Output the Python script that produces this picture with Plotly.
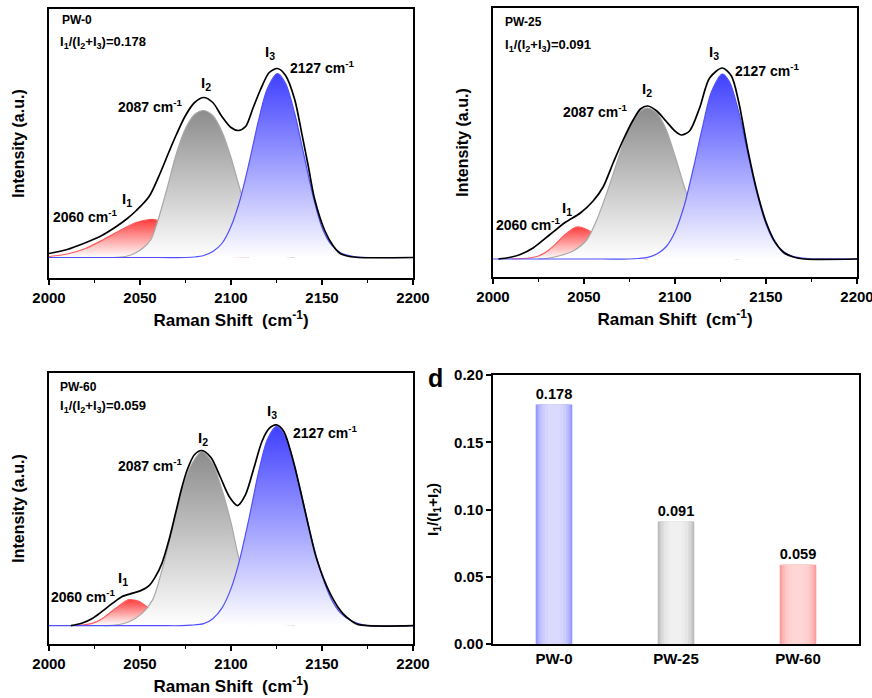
import plotly.graph_objects as go

FONT = "Liberation Sans, Arial, Helvetica, sans-serif"

# ---------------- Data ----------------
# PW-0 : fitted envelope and components (Raman shift cm-1, intensity a.u.)
pw0_env_x = [2000, 2010, 2019, 2028, 2037, 2043, 2048, 2055, 2061, 2066, 2070, 2075, 2080, 2085, 2090, 2095,
             2100, 2104, 2108, 2112, 2116, 2121, 2125.5, 2130, 2135, 2139, 2142.5, 2146, 2151.5, 2156, 2160,
             2165, 2170, 2200]
pw0_env_y = [4, 8, 14, 21, 31, 39, 47, 61, 84, 106, 123, 142, 155, 160, 155, 141,
             130, 127, 131, 149, 167, 185, 189, 182, 158, 123, 91, 58, 27, 12, 4,
             1, 0, 0]
pw0_i1_x = [2000, 2010, 2020, 2030, 2040, 2048, 2055, 2060, 2064, 2072, 2080, 2090, 2100, 2110]
pw0_i1_y = [1, 3.5, 9, 18, 28, 35, 38, 37, 33, 22, 12, 4, 1, 0]
pw0_i2_x = [2035, 2042, 2047, 2052, 2056, 2060, 2065, 2070, 2075, 2080, 2085, 2090, 2095, 2100, 2105, 2110,
            2115, 2120, 2125, 2130, 2135]
pw0_i2_y = [0, 1, 4, 10, 18, 38, 70, 104, 129, 143, 147, 142, 126, 100, 68, 42,
            24, 11, 4, 1, 0]
pw0_i3_x = [2000, 2060, 2075, 2080, 2085, 2090, 2095, 2100, 2105, 2110, 2115, 2120, 2125.5, 2130, 2135, 2140,
            2145, 2150, 2155, 2160, 2165, 2170, 2200]
pw0_i3_y = [0, 0, 0, 0.5, 2, 6, 14, 31, 58, 95, 136, 169, 184, 174, 144, 103,
            62, 30, 13, 5, 2, 0.5, 0]

# PW-25
pw25_env_x = [2003, 2009, 2015, 2022, 2031, 2040, 2048, 2055, 2060.5, 2066, 2071.5, 2077, 2081, 2085, 2090,
              2095, 2100, 2103.5, 2108, 2113.5, 2119, 2126, 2131, 2135, 2140, 2145, 2150, 2155, 2160, 2165,
              2171, 2200]
pw25_env_y = [0, 1.5, 4.5, 11, 24, 37, 46, 58, 72, 96, 119, 139, 150, 153, 148,
              138, 128, 124, 128, 151, 181, 191, 183, 157, 109, 68, 37, 17, 6, 2,
              0, 0]
pw25_i1_x = [2010, 2020, 2025, 2030, 2035, 2040, 2046, 2052, 2058, 2064, 2070, 2076, 2085]
pw25_i1_y = [0, 1, 3, 8, 16, 25, 32, 29, 21, 12, 5, 2, 0]
pw25_i2_x = [2025, 2031, 2038, 2044, 2051.5, 2057, 2062.5, 2068, 2073.5, 2077, 2081, 2085, 2090, 2095, 2100,
             2105, 2110, 2115, 2120, 2125, 2130, 2135]
pw25_i2_y = [0, 1, 4, 8, 19, 39, 66, 96, 126, 139, 148, 151, 146, 130, 103,
             73, 46, 26, 12, 5, 1, 0]
pw25_i3_x = [2000, 2060, 2075, 2080, 2085, 2090, 2095, 2100, 2105, 2110, 2115, 2120, 2126, 2130, 2135, 2140,
             2145, 2150, 2155, 2160, 2165, 2170, 2175, 2200]
pw25_i3_y = [0, 0, 0, 0.5, 1.6, 5, 12, 27, 53, 90, 131, 167, 185, 177, 147, 106,
             66, 35, 16, 7, 2.5, 1, 0, 0]

# PW-60
pw60_env_x = [2012, 2018, 2024, 2029, 2035, 2040, 2046, 2051, 2055, 2058.5, 2062, 2066, 2069.5, 2073, 2076,
              2080, 2084, 2089, 2094, 2099, 2103.5, 2108, 2112.5, 2117, 2121, 2125, 2129, 2134, 2138.5,
              2142.5, 2147, 2154.5, 2161.5, 2166, 2170, 2200]
pw60_env_y = [0, 2.4, 7.5, 14, 22.5, 29, 32.5, 35.5, 40, 49, 62, 86, 112, 138, 156,
              171, 175, 168, 149, 129, 120, 131, 157, 184, 197, 200.5, 194, 166, 132,
              100, 67, 32, 12, 5, 1, 0]
pw60_i1_x = [2015, 2020, 2025, 2030, 2035, 2040, 2044, 2049, 2053, 2058, 2064, 2070, 2076]
pw60_i1_y = [0, 1, 3, 8, 15, 22, 26, 24.5, 20, 13, 6, 2, 0]
pw60_i2_x = [2030, 2036, 2044, 2051, 2057, 2062, 2068, 2073, 2078, 2084, 2090, 2095, 2100, 2104.5, 2110,
             2115, 2120, 2125, 2130, 2135]
pw60_i2_y = [0, 0.5, 4, 12, 26, 55, 98, 135, 160, 174, 162, 136, 103, 66, 36,
             18, 8, 3, 1, 0]
pw60_i3_x = [2000, 2060, 2073, 2078, 2085, 2090, 2095, 2100, 2104.5, 2110, 2115, 2120, 2125, 2130, 2135, 2140,
             2145, 2150, 2155, 2160, 2165, 2170, 2175, 2200]
pw60_i3_y = [0, 0, 0, 0.5, 2, 7, 17.5, 37, 64, 108, 152, 186, 199, 188, 159, 121,
             82, 50, 27, 13, 6, 2, 0, 0]

# Bar panel (d)
samples = ["PW-0", "PW-25", "PW-60"]
ratios = [0.178, 0.091, 0.059]

# ---------------- Figure ----------------
fig = go.Figure()

RED_TOP, GRAY_TOP, BLUE_TOP = "#ff3c3c", "#8c8c8c", "#4040ff"


def area(x, y, xa, ya, line_color, top_color):
    fig.add_trace(go.Scatter(
        x=x, y=y, xaxis=xa, yaxis=ya, mode="lines",
        line=dict(color=line_color, width=1.2, shape="spline", smoothing=0.8),
        fill="tozeroy",
        fillgradient=dict(type="vertical", colorscale=[[0, "#ffffff"], [1, top_color]]),
        hoverinfo="skip", showlegend=False))


def envelope(x, y, xa, ya):
    fig.add_trace(go.Scatter(
        x=x, y=y, xaxis=xa, yaxis=ya, mode="lines",
        line=dict(color="black", width=1.7, shape="spline", smoothing=0.8),
        hoverinfo="skip", showlegend=False))


panels = [
    ("x", "y", pw0_env_x, pw0_env_y, pw0_i1_x, pw0_i1_y, pw0_i2_x, pw0_i2_y, pw0_i3_x, pw0_i3_y),
    ("x2", "y2", pw25_env_x, pw25_env_y, pw25_i1_x, pw25_i1_y, pw25_i2_x, pw25_i2_y, pw25_i3_x, pw25_i3_y),
    ("x3", "y3", pw60_env_x, pw60_env_y, pw60_i1_x, pw60_i1_y, pw60_i2_x, pw60_i2_y, pw60_i3_x, pw60_i3_y),
]
for xa, ya, ex, ey, ax1, ay1, ax2, ay2, ax3, ay3 in panels:
    area(ax1, ay1, xa, ya, "#ff5a5a", RED_TOP)
    area(ax2, ay2, xa, ya, "#a8a8a8", GRAY_TOP)
    area(ax3, ay3, xa, ya, "#5050ff", BLUE_TOP)
    envelope(ex, ey, xa, ya)

# Bars with a cylinder-like gradient (overlaid narrower / lighter layers)
edge_cols = [(150, 150, 255), (188, 188, 188), (255, 155, 155)]
mid_cols = [(218, 218, 255), (240, 240, 240), (255, 214, 214)]
layers = [(0.30, 0.0), (0.27, 0.35), (0.24, 0.6), (0.20, 0.8), (0.15, 0.93), (0.10, 1.0)]


def mix(a, b, t):
    return "rgb(%d,%d,%d)" % tuple(round(a[k] + (b[k] - a[k]) * t) for k in range(3))


for i, (w, t) in enumerate(layers):
    bar = dict(
        x=samples, y=ratios, xaxis="x4", yaxis="y4", width=w,
        marker=dict(color=[mix(e, m, t) for e, m in zip(edge_cols, mid_cols)], line=dict(width=0)),
        hoverinfo="skip", showlegend=False)
    if i == 0:
        bar.update(text=[f"{v:.3f}" for v in ratios], textposition="outside", cliponaxis=False,
                   textfont=dict(size=15, color="black", family=FONT, weight="bold"))
    fig.add_trace(go.Bar(**bar))

# ---------------- Axes ----------------
AX_LINE = dict(showline=True, linecolor="black", linewidth=1.5, mirror=True, showgrid=False,
               zeroline=False, automargin=False)
TICKF = dict(size=15, color="black", family=FONT, weight="bold")
TITF = dict(size=16, color="black", family=FONT, weight="bold")

doms = {
    1: ([49 / 872, 413 / 872], [1 - 278 / 698, 1 - 9 / 698], [-20.5, 248.5]),
    2: ([493 / 872, 857 / 872], [1 - 277 / 698, 1 - 8 / 698], [-18, 251]),
    3: ([49 / 872, 413 / 872], [1 - 644 / 698, 1 - 373 / 698], [-18.3, 252.4]),
}
layout_axes = {}
for k, (dx, dy, yr) in doms.items():
    sx = "" if k == 1 else str(k)
    layout_axes["xaxis" + sx] = dict(
        domain=dx, anchor="y" + sx, range=[2000, 2200], tick0=2000, dtick=50,
        ticks="outside", ticklen=5, tickwidth=1.5, tickcolor="black",
        minor=dict(ticks="outside", ticklen=3, dtick=25, tickwidth=1, tickcolor="black"),
        tickfont=TICKF, ticklabeloverflow="allow",
        title=dict(text="Raman Shift&nbsp;&nbsp;(cm<sup>-1</sup>)", font=dict(TITF, size=17), standoff=9),
        **AX_LINE)
    layout_axes["yaxis" + sx] = dict(
        domain=dy, anchor="x" + sx, range=yr, showticklabels=False, ticks="",
        title=dict(text="Intensity (a.u.)", font=TITF, standoff=19),
        **AX_LINE)

layout_axes["xaxis4"] = dict(
    domain=[493 / 872, 859 / 872], anchor="y4", type="category", range=[-0.5, 2.5],
    ticks="", tickfont=TICKF, ticklabeloverflow="allow", **AX_LINE)
layout_axes["yaxis4"] = dict(
    domain=[1 - 644 / 698, 1 - 375 / 698], anchor="x4", range=[0, 0.2], dtick=0.05, tickformat=".2f",
    ticks="outside", ticklen=5, tickwidth=1.5, tickcolor="black", tickfont=TICKF,
    ticklabeloverflow="allow",
    title=dict(text="I<sub>1</sub>/(I<sub>1</sub>+I<sub>2</sub>)",
               font=dict(size=15, color="black", family=FONT, weight="bold"), standoff=12),
    **AX_LINE)

# ---------------- Annotations ----------------
ann = []


def txt(xref, yref, x, y, text, size, xanchor="center"):
    ann.append(dict(xref=xref, yref=yref, x=x, y=y, text=text, showarrow=False, xanchor=xanchor,
                    yanchor="middle", font=dict(size=size, color="black", family=FONT, weight="bold")))


ratio_txt = "I<sub>1</sub>/(I<sub>2</sub>+I<sub>3</sub>)=%s"
cm = " cm<sup>-1</sup>"
panel_labels = [
    ("x", "y", "PW-0", "0.178", (2006, 237.7), (2005, 214.7), (2121.4, 205), (2131.3, 190), (2086.1, 174),
     (2074.7, 151), (2042.8, 58), (2039, 41)),
    ("x2", "y2", "PW-25", "0.091", (2005.3, 237.3), (2005.3, 213.3), (2121.4, 206), (2131.9, 189), (2084.8, 169),
     (2075.3, 147.6), (2040.5, 50), (2038.5, 35)),
    ("x3", "y3", "PW-60", "0.059", (2005, 238.7), (2005, 218.7), (2122.4, 214), (2133, 193), (2084.8, 187.4),
     (2074.7, 160.7), (2040.8, 46.7), (2038, 29.7)),
]
for xr, yr, name, r, p_pw, p_r, p_i3, p_c3, p_i2, p_c2, p_i1, p_c1 in panel_labels:
    txt(xr, yr, *p_pw, name, 12, "left")
    txt(xr, yr, *p_r, ratio_txt % r, 13, "left")
    txt(xr, yr, *p_i3, "I<sub>3</sub>", 15)
    txt(xr, yr, *p_c3, "2127" + cm, 14, "left")
    txt(xr, yr, *p_i2, "I<sub>2</sub>", 15)
    txt(xr, yr, *p_c2, "2087" + cm, 14, "right")
    txt(xr, yr, *p_i1, "I<sub>1</sub>", 15)
    txt(xr, yr, *p_c1, "2060" + cm, 14, "right")

ann.append(dict(xref="paper", yref="paper", x=435 / 872, y=1 - 378 / 698, text="d", showarrow=False,
                xanchor="center", yanchor="middle",
                font=dict(size=25, color="black", family=FONT, weight="bold")))

fig.update_layout(
    width=872, height=698, margin=dict(l=0, r=0, t=0, b=0, autoexpand=False),
    paper_bgcolor="white", plot_bgcolor="white",
    font=dict(family=FONT, color="black", size=14, weight="bold"),
    barmode="overlay", showlegend=False, annotations=ann,
    **layout_axes)

fig.write_html("out.html")
